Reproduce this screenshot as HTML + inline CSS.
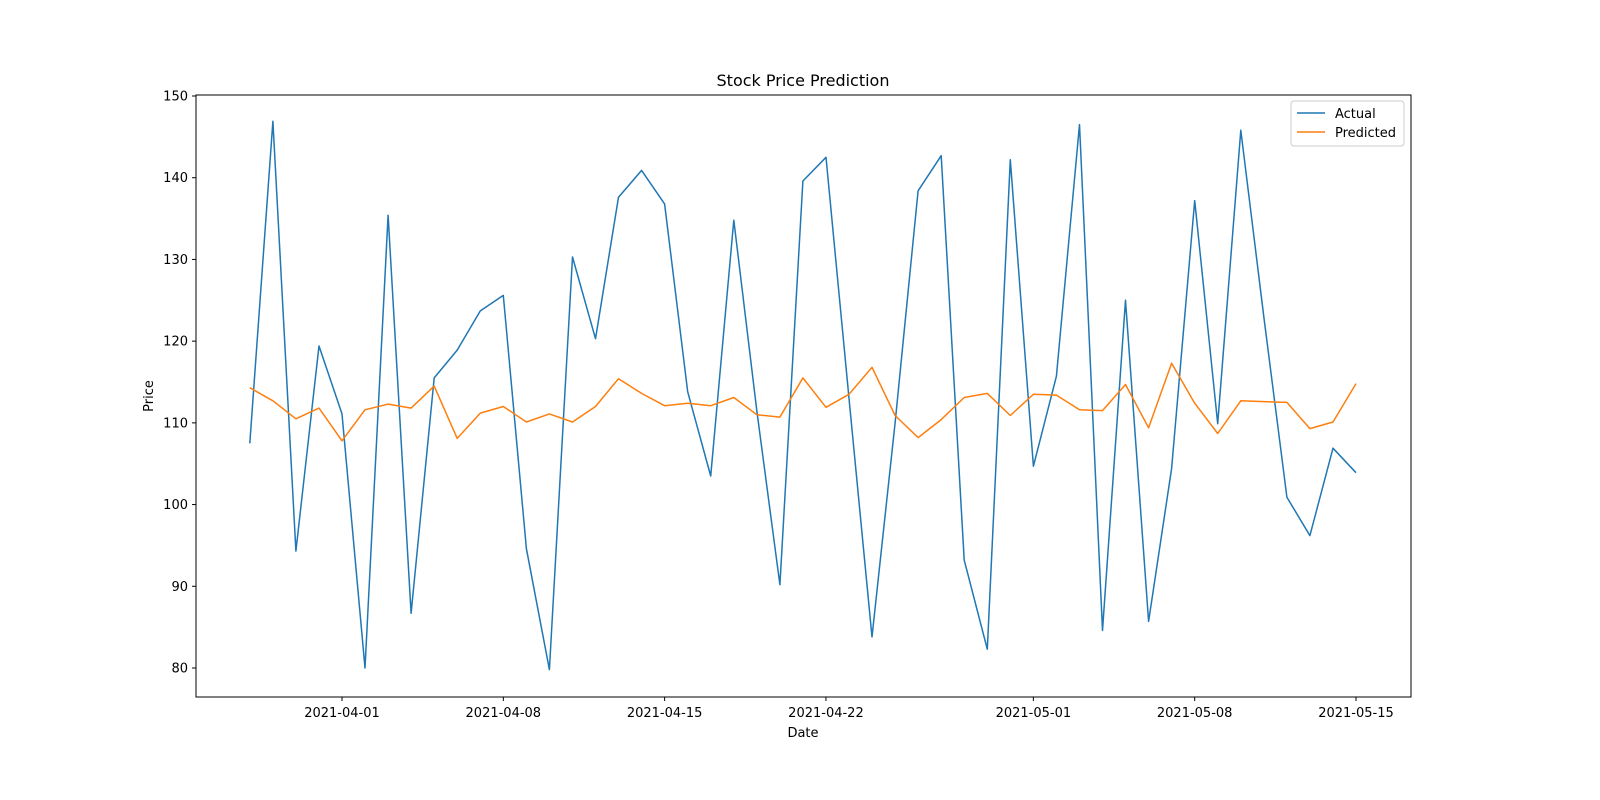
<!DOCTYPE html>
<html><head><meta charset="utf-8"><style>
body{margin:0;background:#fff;}
svg{display:block;font-family:"DejaVu Sans","Liberation Sans",sans-serif;}
</style></head><body>
<svg id="chart" width="1600" height="800">
<rect width="1600" height="800" fill="#fff"/>
<text x="803" y="86" font-size="16" text-anchor="middle">Stock Price Prediction</text>
<g id="grid"></g>
<g id="marks"></g>
<rect x="196" y="95" width="1215" height="602" fill="none" stroke="#000" stroke-width="1"/>
<text x="803" y="737" font-size="13" text-anchor="middle">Date</text>
<text x="153" y="396" font-size="13" text-anchor="middle" transform="rotate(-90 153 396)">Price</text>
<g>
<rect x="1291" y="101" width="113" height="45" rx="3" fill="#fff" stroke="#ccc"/>
<line x1="1297" y1="113" x2="1325" y2="113" stroke="#1f77b4" stroke-width="1.5"/>
<text x="1335" y="118" font-size="13">Actual</text>
<line x1="1297" y1="132" x2="1325" y2="132" stroke="#ff7f0e" stroke-width="1.5"/>
<text x="1335" y="137" font-size="13">Predicted</text>
</g>
</svg>
<script>
const startDate = "2021-03-28";
const actual = [107.5,146.9,94.3,119.4,111.1,80.0,135.4,86.7,115.5,118.9,123.7,125.6,94.6,79.8,130.3,120.3,137.6,140.9,136.8,113.8,103.5,134.8,111.5,90.2,139.6,142.5,113.0,83.8,110.0,138.4,142.7,93.2,82.3,142.2,104.7,115.7,146.5,84.6,125.0,85.7,104.4,137.2,109.9,145.8,123.0,100.9,96.2,106.9,103.9];
const predicted = [114.3,112.7,110.5,111.8,107.8,111.6,112.3,111.8,114.5,108.1,111.2,112.0,110.1,111.1,110.1,112.0,115.4,113.6,112.1,112.4,112.1,113.1,111.0,110.7,115.5,111.9,113.5,116.8,110.9,108.2,110.4,113.1,113.6,110.9,113.5,113.4,111.6,111.5,114.7,109.4,117.3,112.4,108.7,112.7,112.6,112.5,109.3,110.1,114.8];
const yTicks = [80,90,100,110,120,130,140,150];
const xTickLabels = ["2021-04-01","2021-04-08","2021-04-15","2021-04-22","2021-05-01","2021-05-08","2021-05-15"];

const NS="http://www.w3.org/2000/svg";
const day0 = Date.parse("2021-04-01T00:00:00Z");
const X = d => 342 + (d - day0)/86400000 * (1014/44);
const Y = v => 668 - (v-80)*(572/70);
const start = Date.parse(startDate+"T00:00:00Z");
const grid=document.getElementById('grid'), marks=document.getElementById('marks');
function mk(tag, attrs, parent){const e=document.createElementNS(NS,tag);for(const k in attrs)e.setAttribute(k,attrs[k]);parent.appendChild(e);return e;}
yTicks.forEach(v=>{
  const y=Y(v);
  const t=mk('line',{x1:192,x2:196,y1:y,y2:y,stroke:'#000'},grid);
  
  
  const l=mk('text',{x:188,y:y+4.5,'font-size':13,'text-anchor':'end'},grid);
  l.textContent=v;
  
  
});
xTickLabels.forEach(s=>{
  const x=X(Date.parse(s+"T00:00:00Z"));
  const t=mk('line',{x1:x,x2:x,y1:697,y2:701,stroke:'#000'},grid);
  
  
  const l=mk('text',{x:x,y:717,'font-size':13,'text-anchor':'middle'},grid);
  l.textContent=s;
  
  
});
function series(vals,color,name){
  const pts=vals.map((v,i)=>X(start+i*86400000).toFixed(1)+','+Y(v).toFixed(1)).join(' ');
  const p=mk('polyline',{points:pts,fill:'none',stroke:color,'stroke-width':1.5,'stroke-linejoin':'round'},marks);
  
  
}
series(actual,'#1f77b4','actual-line');
series(predicted,'#ff7f0e','predicted-line');
</script>
</body></html>
